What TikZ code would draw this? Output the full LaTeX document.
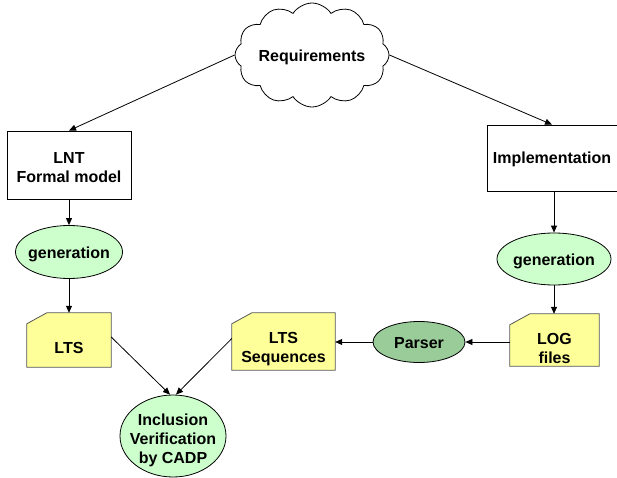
\documentclass[tikz,border=0pt]{standalone}
\usepackage{fontspec}
\setmainfont{Liberation Sans}
\usetikzlibrary{shapes.geometric,shapes.symbols,arrows.meta,backgrounds}
\definecolor{lgreen}{HTML}{CCFFCC}
\definecolor{dgreen}{HTML}{99CC99}
\definecolor{lyellow}{HTML}{FFFF99}
\definecolor{docline}{HTML}{555555}
\begin{document}
\begin{tikzpicture}[x=1pt,y=-1pt,
  every node/.style={font=\fontsize{16}{19}\selectfont\bfseries, align=center, inner sep=0pt},
  boxnode/.style={draw, line width=0.8pt, fill=white, rectangle},
  ellnode/.style={draw, line width=0.8pt, ellipse, fill=lgreen},
  docnode/.style={rectangle},
  arr/.style={line width=0.8pt, -{Triangle[length=7pt,width=6pt]}},
  docshape/.style={draw=docline, fill=lyellow, line width=0.8pt}
]
\useasboundingbox (0,0) rectangle (617,478);
\node[cloud, draw, line width=0.8pt, fill=white, cloud puffs=12, cloud puff arc=115, minimum width=154pt, minimum height=104pt, cloud ignores aspect] (req) at (312,55) {};
\node at ([yshift=-2pt]req) {Requirements};
\node[boxnode, minimum width=124pt, minimum height=68pt] (lnt) at (69,165) {};
\node at ([yshift=-3pt]lnt) {LNT\\Formal model};
\node[boxnode, minimum width=130pt, minimum height=66pt] (impl) at (552,158) {};
\node at ([yshift=-1pt]impl) {Implementation};
\node[ellnode, minimum width=107pt, minimum height=53pt] (gen1) at (69,252) {};
\node at ([yshift=-2pt]gen1) {generation};
\node[ellnode, minimum width=114pt, minimum height=52pt] (gen2) at (554,259) {};
\node at ([yshift=-2pt]gen2) {generation};
\node[docnode, minimum width=84pt, minimum height=54pt] (lts) at (69,340) {};
\node[docnode, minimum width=103pt, minimum height=57pt] (seq) at (283.5,341.5) {};
\node[docnode, minimum width=89pt, minimum height=52pt] (log) at (554.5,340) {};
\node[ellnode, fill=dgreen, minimum width=92pt, minimum height=41pt] (parser) at (419,342) {};
\node at ([yshift=-1pt]parser) {Parser};
\node[ellnode, minimum width=106pt, minimum height=82pt] (incl) at (173,436) {};
\node at ([yshift=-4pt]incl) {Inclusion\\Verification\\by CADP};
\foreach \n in {lts,seq,log}{
  \draw[docshape] (\n.south west) -- (\n.south east) -- (\n.north east) -- ([xshift=20pt]\n.north west) -- ([yshift=-11pt]\n.north west) -- cycle;
}
\node at ([yshift=-8pt]lts) {LTS};
\node at ([yshift=-8pt]seq) {LTS\\Sequences};
\node at ([yshift=-8pt]log) {LOG\\files};
\draw[arr] (req.west) -- (lnt.north);
\draw[arr] (req.east) -- (impl.north);
\draw[arr] (lnt) -- (gen1);
\draw[arr] (gen1) -- (lts);
\draw[arr] (impl.south -| gen2.north) -- (gen2);
\draw[arr] (gen2) -- (log.north -| gen2.south);
\draw[arr] (log.west |- parser) -- (parser.east);
\draw[arr] (parser.west) -- (seq.east |- parser);
\draw[arr] ([yshift=3pt]lts.east) -- ([xshift=-3pt]incl.north);
\draw[arr] ([yshift=3pt]seq.west) -- ([xshift=3pt]incl.north);
\end{tikzpicture}
\end{document}
